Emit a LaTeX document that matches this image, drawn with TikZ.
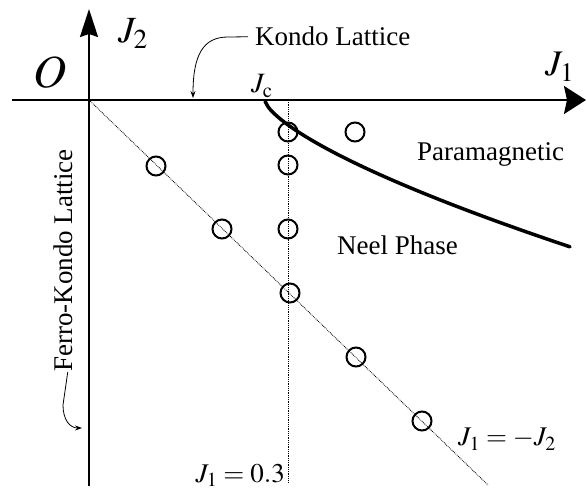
\documentclass[tikz,border=0pt]{standalone}
\usepackage{mathptmx}
\usepackage[no-math]{fontspec}
\setmainfont{Liberation Serif}
\usetikzlibrary{arrows.meta}
\begin{document}
\begin{tikzpicture}[x=1pt,y=-1pt,
  lbl/.style={font=\fontsize{27}{30}\selectfont, inner sep=0pt, anchor=base west},
  pt/.style={circle, draw, line width=2pt, minimum size=19pt, inner sep=0pt},
  guide/.style={densely dotted, line width=0.8pt},
  axis/.style={line width=2pt},
  note/.style={line width=0.8pt, -{Stealth[length=7pt,width=5pt]}},
  border/.style={line width=3.5pt, line cap=round}]
\useasboundingbox (0,0) rectangle (587,489);

% axes
\coordinate (O) at (89,100);
\coordinate (xs) at (12,100);
\coordinate (xe) at (586,100);
\coordinate (ys) at (89,486);
\coordinate (ye) at (89,9);
\draw[axis, -{Stealth[length=22pt,width=28pt,inset=3pt]}] (xs) -- (xe);
\draw[axis, -{Stealth[length=28pt,width=18pt,inset=3pt]}] (ys) -- (ye);

% guide lines
\coordinate (dEnd) at (488,485);
\coordinate (vTop) at (288,100);
\coordinate (vEnd) at (288,483);
\draw[guide] (O) -- (dEnd);
\draw[guide] (vTop) -- (vEnd);

% phase boundary
\draw[border] plot[domain=0.05:305, samples=90, smooth] ({265+\x}, {101+2.66*(\x)^0.7});

% data points
\node[pt] (c1) at (288,132) {};
\node[pt] (c2) at (355,132) {};
\node[pt] (c3) at (156,166) {};
\node[pt] (c4) at (288,165) {};
\node[pt] (c5) at (222,229) {};
\node[pt] (c6) at (288,229) {};
\node[pt] (c7) at (290,293) {};
\node[pt] (c8) at (356,357) {};
\node[pt] (c9) at (422,421) {};

% axis labels
\node[font=\fontsize{46}{50}\selectfont, inner sep=0pt] (olbl) at (50,72) {$O$};
\node[lbl, font=\fontsize{37}{40}\selectfont] (j2) at (118,43) {$J_2$};
\node[lbl, font=\fontsize{36}{40}\selectfont] (j1) at (545,76) {$J_1$};
\node[lbl, font=\fontsize{28}{30}\selectfont] (jc) at (251,93) {$J_{\mathrm{c}}$};

% region labels
\node[lbl] (kondo) at (255,46) {Kondo Lattice};
\node[lbl] (para) at (417,161) {Paramagnetic};
\node[lbl] (neel) at (337,255) {Neel Phase};
\node[lbl, rotate=90] (ferro) at (72,372) {Ferro-Kondo Lattice};
\node[lbl] (diag) at (458,446) {$J_1=-J_2$};
\node[lbl, anchor=base east] (vert) at (285,482) {$J_1=0.3$};

% pointers
\coordinate (k1) at (228,37);
\coordinate (k2) at (193,98);
\draw[note] ([xshift=-7pt]kondo.west) -- (k1) .. controls (203,37) and (193,55) .. (k2);
\coordinate (f1) at (63,405);
\coordinate (f2) at (82,428);
\draw[note] ([xshift=5pt]ferro.west) -- (f1) .. controls (63,420) and (70,428) .. (f2);
\end{tikzpicture}
\end{document}
